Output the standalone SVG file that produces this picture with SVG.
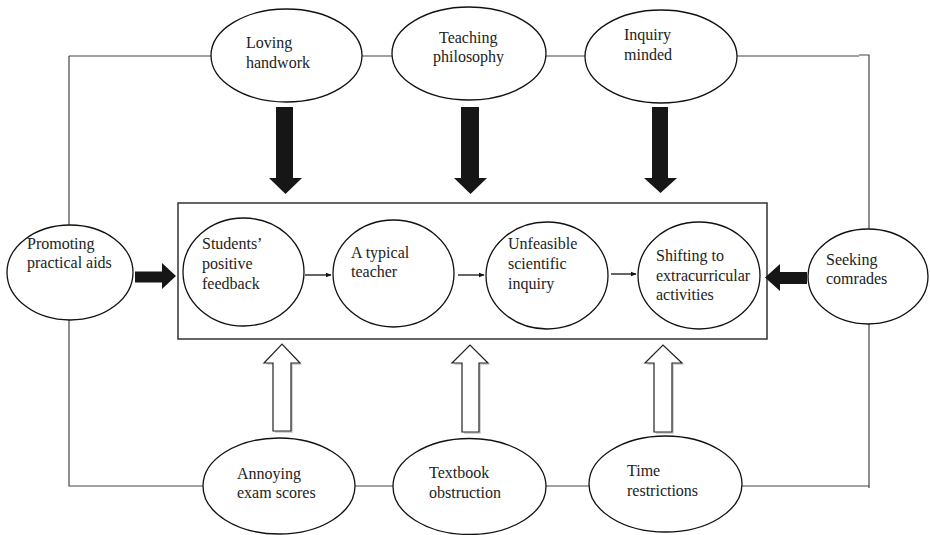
<svg xmlns="http://www.w3.org/2000/svg" width="930" height="535" viewBox="0 0 930 535">
<defs>
<style>
.node ellipse{fill:#fff;stroke:#111;stroke-width:1.3}
text{font-family:"Liberation Serif","Times New Roman",serif;font-size:16px;fill:#222}
.frame{stroke:#444;stroke-width:1.2;fill:none}
.small{stroke:#111;stroke-width:1.3;fill:none}
.black{fill:#161616;stroke:none}
.hollow{fill:#fff;stroke:#222;stroke-width:1.2}
.shadow{fill:#d4d4d4;stroke:none}
</style>
<marker id="ah" viewBox="0 0 10 10" refX="9" refY="5" markerWidth="6" markerHeight="6" orient="auto" markerUnits="userSpaceOnUse">
<path d="M0,1 L10,5 L0,9 z" fill="#111"/>
</marker>
</defs>
<rect width="930" height="535" fill="#fff"/>

<g id="connectors">
<path class="frame" d="M69,56 H211 M362,56 H392 M546,56 H585 M737,56 H859 M859,55 H869 V229 M869,324 V488"/>
<path class="frame" d="M69,56 V225 M69,320 V486 H203 M355,486 H393 M546,486 H589 M742,486 H869"/>
<rect x="178" y="203" width="589" height="136" fill="none" stroke="#333" stroke-width="1.5"/>
<line class="small" x1="305" y1="275" x2="331" y2="275" marker-end="url(#ah)"/>
<line class="small" x1="458" y1="275" x2="484" y2="275" marker-end="url(#ah)"/>
<line class="small" x1="611" y1="274" x2="636" y2="274" marker-end="url(#ah)"/>
<path class="black" d="M276,107 H293 V178 H302 L285.5,194 L269,178 H276 Z"/>
<path class="black" d="M461,107 H479 V178 H487 L470.5,194 L454,178 H461 Z"/>
<path class="black" d="M652,107 H668 V178 H677 L660.5,193 L644,178 H652 Z"/>
<path class="black" d="M135,271.5 H162 V263 L176,276 L162,289 V282.5 H135 Z"/>
<path class="black" d="M807,272 H780 V264 L765,277.5 L780,291 V284 H807 Z"/>
<path class="shadow" d="M275,433 V365 H266 L284,346 L302,365 H293 V433 Z"/>
<path class="hollow" d="M273,431 V363 H264 L282,344 L300,363 H291 V431 Z"/>
<path class="shadow" d="M464,434 V365 H454 L472,347 L490,365 H481 V434 Z"/>
<path class="hollow" d="M462,432 V363 H452 L470,345 L488,363 H479 V432 Z"/>
<path class="shadow" d="M656,434 V365 H647 L665,347 L684,365 H674 V434 Z"/>
<path class="hollow" d="M654,432 V363 H645 L663,345 L682,363 H672 V432 Z"/>
</g>

<g id="loving-handwork" class="node">
<ellipse cx="286.5" cy="55.5" rx="75.5" ry="46.5"/>
<text x="246" y="48">Loving</text>
<text x="246" y="68">handwork</text>
</g>
<g id="teaching-philosophy" class="node">
<ellipse cx="469" cy="53.5" rx="77" ry="46.5"/>
<text x="439" y="43">Teaching</text>
<text x="433" y="62">philosophy</text>
</g>
<g id="inquiry-minded" class="node">
<ellipse cx="661" cy="56.5" rx="76" ry="46.5"/>
<text x="624" y="40">Inquiry</text>
<text x="624" y="60">minded</text>
</g>

<g id="promoting-practical-aids" class="node">
<ellipse cx="70" cy="272.5" rx="63" ry="47.5"/>
<text x="27" y="249">Promoting</text>
<text x="27" y="268">practical aids</text>
</g>
<g id="seeking-comrades" class="node">
<ellipse cx="868" cy="276.5" rx="60" ry="47.5"/>
<text x="826" y="265">Seeking</text>
<text x="826" y="284">comrades</text>
</g>

<g id="students-positive-feedback" class="node">
<ellipse cx="243.5" cy="272" rx="60.5" ry="54"/>
<text x="202" y="249">Students’</text>
<text x="202" y="269">positive</text>
<text x="202" y="289">feedback</text>
</g>
<g id="a-typical-teacher" class="node">
<ellipse cx="393.5" cy="273.5" rx="60.5" ry="53.5"/>
<text x="351" y="258">A typical</text>
<text x="351" y="277">teacher</text>
</g>
<g id="unfeasible-scientific-inquiry" class="node">
<ellipse cx="547" cy="275.5" rx="61" ry="53.5"/>
<text x="508" y="249">Unfeasible</text>
<text x="508" y="269">scientific</text>
<text x="508" y="289">inquiry</text>
</g>
<g id="shifting-to-extracurricular" class="node">
<ellipse cx="699" cy="275.5" rx="61" ry="53.5"/>
<text x="656" y="261">Shifting to</text>
<text x="656" y="281">extracurricular</text>
<text x="656" y="300">activities</text>
</g>

<g id="annoying-exam-scores" class="node">
<ellipse cx="279" cy="486" rx="76" ry="48"/>
<text x="237" y="479">Annoying</text>
<text x="237" y="498">exam scores</text>
</g>
<g id="textbook-obstruction" class="node">
<ellipse cx="469.5" cy="486.5" rx="76.5" ry="48"/>
<text x="429" y="478">Textbook</text>
<text x="429" y="498">obstruction</text>
</g>
<g id="time-restrictions" class="node">
<ellipse cx="665.5" cy="484" rx="76.5" ry="48"/>
<text x="627" y="476">Time</text>
<text x="627" y="496">restrictions</text>
</g>
</svg>
